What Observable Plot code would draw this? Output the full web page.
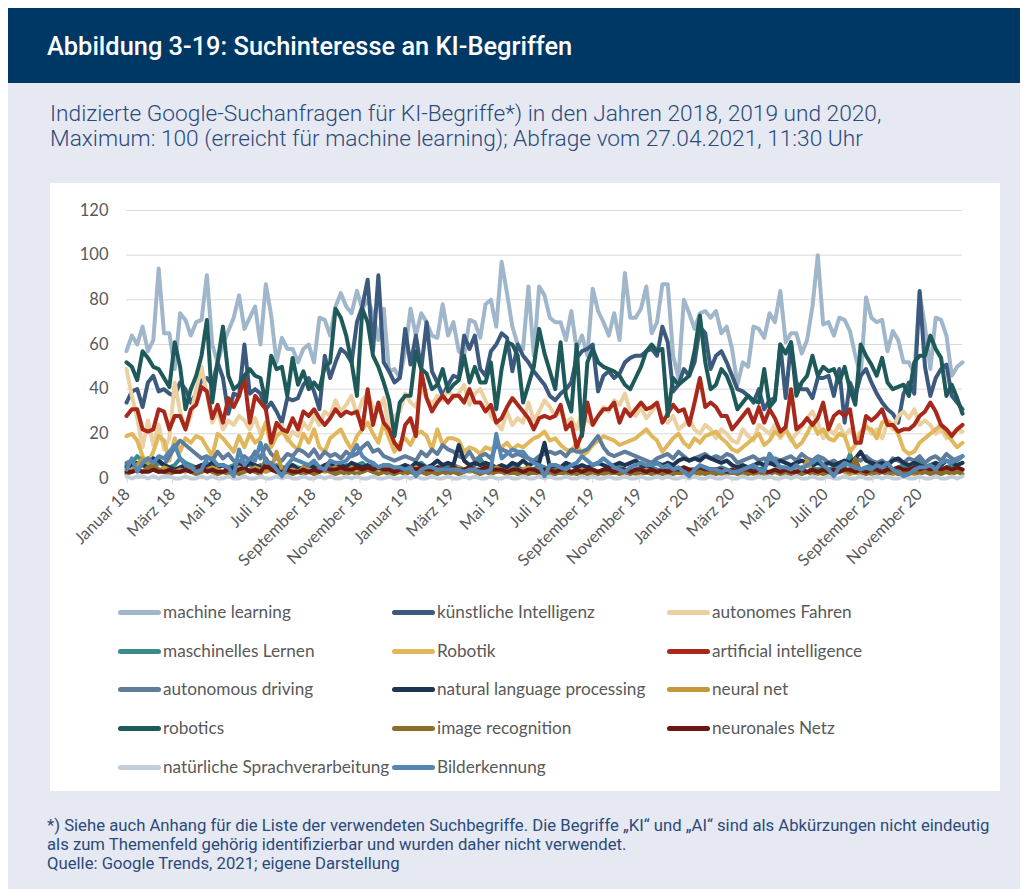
<!DOCTYPE html>
<html lang="de">
<head>
<meta charset="utf-8">
<script src="https://cdn.jsdelivr.net/npm/d3@7"></script>
<script src="https://cdn.jsdelivr.net/npm/@observablehq/plot@0.6"></script>
<style>
  html, body { margin: 0; padding: 0; background: #ffffff; }
  body { width: 1027px; height: 889px; position: relative; overflow: hidden; font-family: Roboto, "Noto Sans", sans-serif; }
  #header { position: absolute; left: 8px; top: 8px; width: 1012px; height: 75px; background: #003865; }
  #title { position: absolute; left: 39px; top: 23px; color: #ffffff; font-size: 25.4px; font-weight: 500; white-space: nowrap; }
  #panel { position: absolute; left: 8px; top: 83px; width: 1012px; height: 806px; background: #e6e9f2; }
  #subtitle { position: absolute; left: 50px; top: 101px; color: #2b4a7c; font-size: 22.7px; font-weight: 300; line-height: 25px; white-space: nowrap; }
  #box { position: absolute; left: 50px; top: 183px; width: 950px; height: 608px; background: #ffffff; }
  #chart { position: absolute; left: 0; top: 0; }
  #legend { position: absolute; left: 0; top: 410px; width: 950px; font-family: Lato, sans-serif; font-size: 17.2px; color: #595959; }
  .item { position: absolute; height: 20px; white-space: nowrap; }
  .swatch { position: absolute; left: 0; top: 8px; width: 43px; height: 5px; border-radius: 2.5px; }
  .lbl { position: absolute; left: 45px; top: 0; line-height: 20px; }
  #foot { position: absolute; left: 47px; top: 816px; color: #2b4a7c; font-size: 16.7px; line-height: 19px; white-space: nowrap; }
</style>
</head>
<body>
<div id="header"><div id="title">Abbildung 3-19: Suchinteresse an KI-Begriffen</div></div>
<div id="panel"></div>
<div id="subtitle">Indizierte Google-Suchanfragen für KI-Begriffe*) in den Jahren 2018, 2019 und 2020,<br>Maximum: 100 (erreicht für machine learning); Abfrage vom 27.04.2021, 11:30 Uhr</div>
<div id="box"><div id="chart"></div><div id="legend"></div></div>
<div id="foot">*) Siehe auch Anhang für die Liste der verwendeten Suchbegriffe. Die Begriffe „KI“ und „AI“ sind als Abkürzungen nicht eindeutig<br>als zum Themenfeld gehörig identifizierbar und wurden daher nicht verwendet.<br>Quelle: Google Trends, 2021; eigene Darstellung</div>
<script>
// ---- Data (weekly Google Trends index, weeks starting 31.12.2017) ----
const seriesNames = [
  "machine learning", "künstliche Intelligenz", "autonomes Fahren",
  "maschinelles Lernen", "Robotik", "artificial intelligence",
  "autonomous driving", "natural language processing", "neural net",
  "robotics", "image recognition", "neuronales Netz",
  "natürliche Sprachverarbeitung", "Bilderkennung"
];
const seriesColors = [
  "#a0b6cb", "#3c5a7e", "#ebd0a2",
  "#3a8b8e", "#e0b75a", "#a8281b",
  "#5f7c9b", "#1f3450", "#c3973c",
  "#1e5a5a", "#8c6e2b", "#6d1616",
  "#c3cedb", "#5587b4"
];
const monthNames = ["Januar","Februar","März","April","Mai","Juni","Juli","August","September","Oktober","November","Dezember"];
const yTicks = [0, 20, 40, 60, 80, 100, 120];

const machineLearning = [
57,64,60,68,57,62,94,65,65,49,
74,71,64,70,71,91,60,52,60,66,
72,82,67,72,77,60,87,73,52,63,
58,58,52,58,60,52,72,71,64,77,
83,77,74,84,76,80,74,62,76,48,
49,45,57,76,64,74,70,64,63,78,
64,70,57,55,71,70,63,78,80,68,
97,83,68,60,58,86,55,86,82,72,
70,70,62,75,58,64,55,85,75,70,
64,74,62,92,72,72,76,86,65,70,
87,87,55,45,80,74,67,74,75,72,
75,65,68,58,42,52,50,68,67,63,
74,70,84,61,65,65,56,62,77,100,
69,70,64,72,71,66,55,46,81,72,
70,71,57,66,62,52,52,47,83,68,
49,72,71,64,46,50,52];
const kuenstlicheIntelligenz = [
34,39,40,32,43,46,39,40,38,37,
43,40,34,38,44,45,42,52,45,29,
38,37,60,38,40,38,31,34,30,25,
36,35,36,42,45,39,31,55,45,52,
58,56,52,70,77,89,57,91,52,48,
43,45,67,51,64,49,70,48,43,37,
42,46,45,64,58,64,49,46,57,60,
65,63,48,60,55,52,48,45,42,37,
35,38,40,43,54,57,58,60,39,46,
48,45,47,52,54,55,55,57,58,55,
68,61,39,42,49,46,52,68,65,49,
55,57,52,46,40,39,37,34,40,31,
35,36,60,36,61,43,40,40,36,45,
45,46,37,49,25,43,37,46,49,43,
38,34,31,29,25,38,43,38,84,50,
37,45,49,51,37,34,31];
const autonomesFahren = [
49,37,27,14,26,15,24,13,18,43,
30,22,28,40,50,38,25,30,22,26,
24,28,26,22,27,20,25,18,22,24,
17,21,19,25,22,28,24,30,28,35,
30,33,37,28,35,38,32,30,36,22,
28,30,38,34,32,40,36,33,37,35,
40,36,38,42,33,38,40,35,28,25,
22,30,24,27,25,34,26,30,35,32,
28,30,25,27,22,30,26,24,28,32,
30,35,33,38,30,28,32,27,30,33,
27,25,28,22,24,27,22,20,24,22,
18,22,20,17,16,22,19,17,24,22,
20,24,18,22,17,20,23,27,30,25,
18,22,20,24,19,22,18,21,24,20,
22,18,25,22,28,30,27,31,24,26,
24,20,22,18,20,22,21];
const maschinellesLernen = [
6,7,10,8,6,5,7,6,5,6,
9,7,6,5,6,7,6,5,6,5,
6,5,7,6,5,6,5,4,6,5,
5,6,5,4,5,6,5,6,5,4,
5,6,5,6,7,5,6,5,4,5,
4,5,6,5,6,7,5,4,5,6,
5,6,5,4,5,6,9,5,6,5,
4,5,6,5,4,5,4,6,5,4,
5,4,5,6,5,4,5,4,3,4,
5,4,5,4,3,4,5,4,5,4,
3,4,5,4,5,4,3,4,5,4,
4,5,4,3,4,5,4,5,4,5,
11,6,5,4,5,4,5,6,5,4,
5,4,5,6,5,11,5,4,5,6,
5,4,5,4,5,6,4,5,9,5,
4,5,4,5,6,5,4];
const robotik = [
19,20,17,10,7,12,19,17,8,18,
12,18,16,19,18,14,10,20,18,15,
12,19,14,20,16,18,25,14,19,21,
18,15,13,20,16,22,14,12,18,20,
22,17,13,19,22,25,20,16,25,18,
12,16,18,15,20,21,19,13,22,15,
18,18,17,12,14,13,11,14,13,15,
14,16,13,15,14,16,18,19,21,17,
18,15,13,12,16,10,12,15,17,19,
18,17,15,16,17,18,20,22,19,17,
12,15,18,20,16,14,18,16,19,20,
21,18,16,13,12,14,16,18,20,15,
17,21,19,22,18,14,16,20,25,20,
22,18,17,20,19,12,15,20,23,22,
18,25,26,24,20,13,11,12,16,18,
20,22,24,20,17,14,16];
const artificialIntelligence = [
28,31,31,22,21,22,31,30,22,28,
28,22,31,33,41,39,27,33,25,36,
32,37,45,25,37,34,31,16,25,22,
21,27,22,30,28,31,27,24,27,31,
28,30,29,30,22,40,24,34,25,22,
16,13,24,27,19,48,36,30,34,37,
34,37,37,34,40,34,34,30,33,25,
27,32,36,33,30,27,22,27,28,27,
28,33,22,25,14,20,34,24,28,31,
31,34,25,31,28,31,34,31,32,34,
25,29,33,30,31,24,34,45,32,34,
32,28,28,22,25,28,31,25,32,25,
31,27,21,23,40,22,24,27,24,27,
34,22,28,30,28,31,16,16,28,26,
28,31,24,24,21,22,22,24,28,30,
34,30,24,22,19,22,24];
const autonomousDriving = [
7,8,5,6,9,7,8,6,10,14,
17,15,13,11,9,10,8,12,9,11,
8,7,10,8,12,9,15,11,9,8,
11,10,13,12,10,13,9,12,10,11,
9,12,10,11,14,16,12,13,10,9,
8,9,10,9,8,12,10,13,11,15,
13,12,10,9,12,8,10,11,9,15,
13,12,10,11,10,9,8,10,11,12,
11,12,10,13,12,12,13,16,19,14,
11,10,11,12,11,10,9,8,7,9,
10,11,9,12,10,8,9,10,11,9,
10,9,11,10,7,8,9,10,8,9,
7,9,8,9,10,8,11,9,8,10,
9,7,8,6,8,7,9,8,10,8,
7,8,6,9,8,7,9,8,10,7,
9,10,8,11,9,8,10];
const naturalLanguageProcessing = [
5,6,7,6,5,9,8,6,5,4,
5,6,4,5,6,5,7,5,6,4,
5,6,5,7,6,5,4,6,5,4,
5,6,4,5,6,5,4,6,7,5,
6,5,7,6,5,6,4,5,6,5,
4,5,6,5,7,6,5,6,8,6,
7,6,15,8,6,7,6,7,6,5,
6,5,7,6,8,6,7,7,16,5,
6,5,7,6,5,6,5,6,7,6,
5,6,7,6,7,8,6,5,6,7,
6,7,6,8,9,8,9,8,10,9,
8,7,8,6,5,6,5,6,7,6,
7,6,8,7,6,7,8,7,6,7,
6,7,6,7,8,7,9,12,8,7,
6,7,6,8,9,7,6,7,6,5,
6,7,6,8,7,6,7];
const neuralNet = [
3,4,6,9,7,4,3,5,4,3,
4,3,5,4,3,4,5,4,3,4,
3,5,4,3,5,4,3,4,12,4,
3,4,3,5,4,3,4,3,4,5,
4,3,5,4,3,4,3,4,5,4,
3,4,3,4,5,4,3,4,3,4,
3,4,5,4,3,4,3,4,3,5,
4,3,4,3,4,5,3,4,3,4,
3,4,3,2,3,4,3,4,3,2,
3,4,3,4,3,2,3,4,3,2,
3,2,3,4,3,2,3,2,3,4,
3,2,3,4,3,2,3,2,3,2,
3,4,3,2,3,4,3,8,3,2,
3,2,3,4,3,2,3,2,3,2,
3,4,3,2,3,2,3,2,3,4,
3,2,3,4,3,3,4];
const robotics = [
52,50,44,57,54,50,49,45,41,61,
50,31,40,46,55,71,34,52,68,46,
40,42,46,49,46,45,34,55,49,50,
37,54,42,48,40,43,40,50,52,76,
72,64,52,37,76,70,55,50,43,35,
19,34,37,37,57,49,47,40,42,49,
39,42,44,55,43,50,43,43,52,31,
49,61,60,55,34,42,50,67,56,48,
40,61,37,30,60,19,52,58,52,50,
49,48,46,42,40,45,50,57,60,57,
58,28,45,42,44,46,57,73,52,40,
42,49,46,40,31,34,37,35,34,49,
32,35,60,56,61,37,43,46,55,46,
50,48,49,43,50,40,33,60,55,51,
46,54,43,40,41,42,37,52,55,55,
64,58,54,37,42,36,29];
const imageRecognition = [
2,3,4,3,5,6,4,3,2,3,
3,4,3,2,3,4,3,2,3,2,
3,2,3,4,3,2,9,5,3,2,
3,2,3,2,3,2,3,4,3,2,
3,2,3,2,3,4,3,2,3,2,
2,3,2,3,2,3,2,3,2,3,
2,3,2,3,4,3,2,3,2,3,
3,2,3,2,3,2,3,2,3,2,
2,3,2,3,2,3,2,3,2,3,
2,3,2,3,2,3,2,3,2,3,
2,3,2,3,2,3,2,3,2,3,
2,3,2,3,2,3,2,3,2,3,
2,3,2,3,2,3,2,3,2,3,
2,3,2,3,4,3,9,3,2,3,
2,3,2,3,2,3,2,3,2,3,
2,3,2,3,2,3,2];
const neuronalesNetz = [
3,3,4,3,3,4,3,3,4,3,
3,4,3,4,5,3,4,3,3,4,
3,4,5,3,4,3,6,4,3,3,
4,3,3,4,3,4,3,5,4,4,
5,4,4,5,4,5,4,5,4,4,
3,4,4,5,4,5,4,4,5,4,
4,5,4,4,5,4,4,5,4,4,
4,3,4,4,3,4,4,3,4,4,
3,4,4,3,4,3,4,4,3,4,
4,3,4,4,3,4,4,3,4,3,
4,3,4,4,5,4,4,5,4,4,
4,4,3,4,3,4,4,3,4,3,
3,4,3,4,3,3,4,3,4,3,
4,3,4,3,4,4,3,4,3,4,
4,3,4,4,5,4,4,5,4,5,
4,5,4,5,4,5,4];
const natuerlicheSprachverarbeitung = [
1,0,1,1,0,1,0,1,1,0,
0,1,0,0,1,0,1,0,0,1,
0,0,1,0,0,1,0,0,1,0,
1,0,0,1,0,0,1,0,1,0,
0,1,0,1,0,0,1,0,0,1,
0,0,1,0,1,0,0,1,0,0,
1,0,0,1,0,1,0,0,1,0,
0,1,0,0,1,0,0,1,0,1,
0,0,1,0,0,1,0,1,0,0,
1,0,0,1,0,0,1,0,0,1,
0,1,0,0,1,0,1,0,0,1,
0,0,1,0,0,1,0,0,1,0,
1,0,0,1,0,1,0,0,1,0,
0,1,0,0,1,0,0,1,0,0,
1,0,1,0,0,1,0,0,1,0,
0,1,0,0,1,0,1];
const bilderkennung = [
4,9,3,7,9,7,10,9,12,15,
9,6,5,3,4,9,9,6,6,5,
1,13,6,9,8,16,7,7,4,1,
6,9,8,7,6,8,5,4,8,7,
7,8,11,15,10,8,7,5,6,6,
5,5,4,5,1,4,5,5,4,4,
4,4,4,3,4,4,3,3,4,20,
9,11,13,12,12,9,7,6,1,6,
6,5,4,6,7,10,8,6,7,9,
7,5,4,3,5,6,7,6,6,7,
5,6,4,5,3,1,4,6,5,4,
4,3,4,3,3,4,5,6,4,3,
11,8,5,5,4,6,4,6,7,9,
6,4,1,5,7,6,5,4,5,4,
6,5,7,4,3,1,2,4,5,5,
6,4,7,8,7,9,10];

const seriesValues = [
  machineLearning, kuenstlicheIntelligenz, autonomesFahren,
  maschinellesLernen, robotik, artificialIntelligence,
  autonomousDriving, naturalLanguageProcessing, neuralNet,
  robotics, imageRecognition, neuronalesNetz,
  natuerlicheSprachverarbeitung, bilderkennung
];

// ---- Build table ----
const weeks = d3.range(machineLearning.length).map(i => new Date(Date.UTC(2017, 11, 31 + 7 * i)));
const table = seriesNames.flatMap((name, s) =>
  seriesValues[s].map((v, i) => ({date: weeks[i], value: v, series: name})));
const xTicks = d3.utcMonth.every(2).range(new Date(Date.UTC(2018, 0, 1)), new Date(Date.UTC(2020, 11, 2)));
const fmt = d => monthNames[d.getUTCMonth()] + " " + String(d.getUTCFullYear()).slice(2);

const chart = Plot.plot({
  width: 950,
  height: 410,
  marginTop: 27,
  marginBottom: 115,
  marginLeft: 76,
  marginRight: 38,
  style: {fontFamily: "Lato, sans-serif", background: "transparent", color: "#595959", overflow: "visible"},
  x: {type: "utc", domain: [weeks[0], weeks[weeks.length - 1]]},
  y: {domain: [0, 120]},
  color: {domain: seriesNames, range: seriesColors},
  marks: [
    Plot.gridY(yTicks, {stroke: "#d9d9d9", strokeOpacity: 1, strokeWidth: 1}),
    Plot.ruleY([0], {stroke: "#d9d9d9"}),
    Plot.line(table, {x: "date", y: "value", z: "series", stroke: "series",
      strokeWidth: 4, strokeLinejoin: "round", strokeLinecap: "round"}),
    Plot.axisY(yTicks, {tickSize: 0, tickPadding: 18, fontSize: 16.5, fill: "#595959", label: null}),
    Plot.axisX(xTicks, {tickFormat: fmt, tickRotate: -45, tickSize: 5, tickPadding: 8,
      stroke: "#d9d9d9", fontSize: 16.5, fill: "#595959", textAnchor: "end", label: null})
  ]
});
document.getElementById("chart").appendChild(chart);

// ---- Legend (3 columns, row-major) ----
const legend = document.getElementById("legend");
const colX = [68, 342, 617];
const rowY = [429, 468, 506, 545, 584];
seriesNames.forEach((name, i) => {
  const item = document.createElement("div");
  item.className = "item";
  item.style.left = colX[i % 3] + "px";
  item.style.top = (rowY[Math.floor(i / 3)] - 410 - 10) + "px";
  const sw = document.createElement("div");
  sw.className = "swatch";
  sw.style.background = seriesColors[i];
  const lb = document.createElement("div");
  lb.className = "lbl";
  lb.textContent = name;
  item.appendChild(sw);
  item.appendChild(lb);
  legend.appendChild(item);
});
</script>
</body>
</html>
